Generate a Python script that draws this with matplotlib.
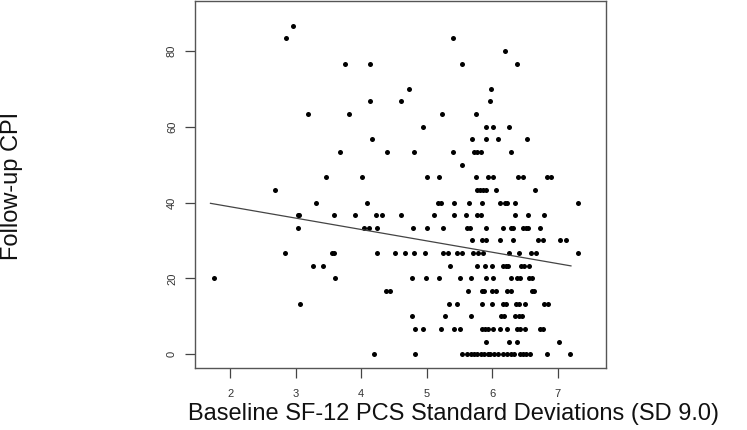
import numpy as np
import matplotlib
matplotlib.use("Agg")
import matplotlib.pyplot as plt

plt.rcParams['font.family'] = ['Liberation Sans', 'DejaVu Sans']

# CPI levels come in steps of 10/3; x positions, row by row
rows = {
    0: [4.20, 4.82, 5.54, 5.61, 5.67, 5.72, 5.77, 5.83, 5.88, 5.93, 5.97, 6.02,
        6.09, 6.16, 6.23, 6.28, 6.33, 6.42, 6.47, 6.52, 6.57, 6.83, 7.18],
    1: [5.90, 6.26, 6.37, 7.02],
    2: [4.82, 4.95, 5.22, 5.41, 5.51, 5.85, 5.89, 5.94, 6.01, 6.12, 6.22, 6.37,
        6.42, 6.50, 6.73, 6.77],
    3: [4.78, 5.28, 5.68, 6.13, 6.18, 6.34, 6.40, 6.46],
    4: [3.07, 5.34, 5.46, 5.84, 5.99, 6.17, 6.21, 6.36, 6.41, 6.50, 6.79, 6.85],
    5: [4.38, 4.44, 5.63, 5.84, 5.88, 6.00, 6.05, 6.22, 6.29, 6.60, 6.64],
    6: [1.75, 3.60, 4.78, 4.99, 5.19, 5.51, 5.68, 5.91, 6.01, 6.29, 6.37, 6.42,
        6.56, 6.60],
    7: [3.26, 3.42, 5.35, 5.77, 5.89, 5.99, 6.17, 6.21, 6.24, 6.44, 6.48, 6.56],
    8: [2.84, 3.55, 3.58, 4.24, 4.52, 4.67, 4.81, 4.97, 5.25, 5.32, 5.46, 5.54,
        5.71, 5.78, 5.86, 6.26, 6.41, 6.59, 6.66, 7.30],
    9: [5.69, 5.84, 5.91, 6.12, 6.31, 6.70, 6.77, 7.04, 7.13],
    10: [3.03, 4.05, 4.12, 4.24, 4.79, 5.00, 5.25, 5.61, 5.66, 5.90, 6.17, 6.28,
         6.32, 6.47, 6.51, 6.54, 6.73],
    11: [3.03, 3.05, 3.59, 3.90, 4.22, 4.31, 4.61, 5.11, 5.42, 5.60, 5.76, 5.82,
         6.35, 6.55, 6.79],
    12: [3.31, 4.09, 5.17, 5.21, 5.42, 5.65, 5.85, 6.11, 6.19, 6.22, 6.35, 7.30],
    13: [2.68, 5.76, 5.81, 5.86, 5.90, 6.05, 6.65],
    14: [3.46, 4.01, 5.01, 5.19, 5.75, 5.94, 6.01, 6.39, 6.47, 6.83, 6.90],
    15: [5.54],
    16: [3.68, 4.39, 4.80, 5.40, 5.72, 5.77, 5.82, 6.28],
    17: [4.17, 5.69, 5.90, 6.08, 6.53],
    18: [4.94, 5.90, 6.01, 6.26],
    19: [3.19, 3.82, 5.24, 5.75],
    20: [4.14, 4.60, 5.96],
    21: [4.73, 5.98],
    23: [3.76, 4.13, 5.54, 6.37],
    24: [6.20],
    25: [2.85, 5.40],
    26: [2.96],
}

sd_x = []
cpi_y = []
for k, xs in rows.items():
    for xv in xs:
        sd_x.append(xv)
        cpi_y.append(k * 10 / 3)

# fitted line as drawn
line_x = [1.70, 7.20]
line_y = [39.8, 23.3]

x_ticks = [2, 3, 4, 5, 6, 7]
y_ticks = [0, 20, 40, 60, 80]

fig = plt.figure(figsize=(7.47, 4.30), dpi=100)
ax = fig.add_axes([195 / 747, (430 - 368.3) / 430, (605.7 - 195) / 747, (368.3 - 0.8) / 430])

ax.plot(sd_x, cpi_y, 'o', color='black', markersize=3.6, markeredgewidth=0)
ax.plot(line_x, line_y, color='#444444', linewidth=0.9)

ax.set_xlim(1.464, 7.73)
ax.set_ylim(-3.7, 93.2)
ax.set_xticks(x_ticks)
ax.set_yticks(y_ticks)
ax.set_xticklabels([str(v) for v in x_ticks], fontsize=8, color='#333333')
ax.set_yticklabels([str(v) for v in y_ticks], fontsize=8, color='#333333',
                   rotation=90, va='center')
ax.tick_params(direction='out', length=7, width=0.9, color='#444444', pad=8)
ax.tick_params(axis='y', pad=6)
for s in ax.spines.values():
    s.set_color('#555555')
    s.set_linewidth(1.0)

fig.text(454 / 747, 1 - 414 / 430, 'Baseline SF-12 PCS Standard Deviations (SD 9.0)',
         fontsize=17, ha='center', va='center', color='#111111')
fig.text(12 / 747, 1 - 186 / 430, 'Follow-up CPI', fontsize=17, rotation=90,
         ha='center', va='center', color='#111111')

fig.savefig('out.png', dpi=100)
